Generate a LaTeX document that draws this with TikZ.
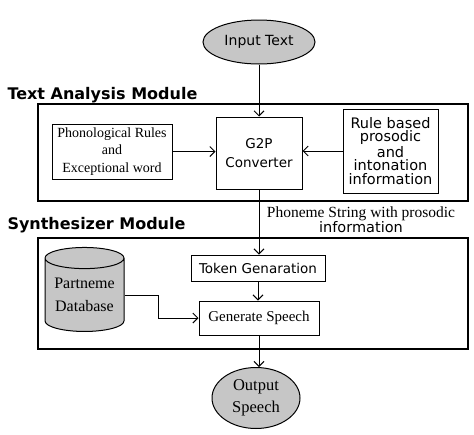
\documentclass[tikz,border=0pt]{standalone}
\usepackage{fontspec}
\setmainfont{Liberation Serif}
\setsansfont{DejaVu Sans}
\usetikzlibrary{arrows.meta, shapes.geometric}

\newcommand{\sanssize}[2]{\sffamily\fontsize{#1}{#2}\selectfont}
\newcommand{\serifsize}[2]{\rmfamily\fontsize{#1}{#2}\selectfont}

\begin{document}
\begin{tikzpicture}[x=1pt, y=-1pt, >={Straight Barb[length=5pt, width=10pt]}, line width=1pt,
            box/.style={draw, rectangle, inner sep=0pt, align=center},
            module/.style={draw, rectangle, inner sep=0pt, line width=1.3pt},
            term/.style={draw, ellipse, fill=gray!45, inner sep=0pt, align=center},
            heading/.style={anchor=west, inner sep=0pt, font=\sffamily\bfseries\fontsize{16}{18}\selectfont}]
            \useasboundingbox (0,0) rectangle (474,434);

            % module frames
            \node[module, minimum width=430, minimum height=97] (tabox) at (253,152.5) {};
            \node[module, minimum width=430, minimum height=111] (smbox) at (253,293.5) {};
            \node[heading] (tam) at (7,95) {Text Analysis Module};
            \node[heading] (sm) at (7,225) {Synthesizer Module};

            \node[term, minimum width=112, minimum height=44, font=\sanssize{14}{16}] (in) at (259,42) {Input Text};

            % text analysis
            \node[box, minimum width=120, minimum height=55, font=\serifsize{14}{17.5}] (phon) at (112,151.5) {Phonological Rules\\and\\Exceptional word};
            \node[box, minimum width=86, minimum height=72, font=\sanssize{13.5}{19}] (g2p) at (259,153) {G2P\\Converter};
            \node[box, minimum width=95, minimum height=84, font=\sanssize{14.5}{13.8}] (rule) at (390.5,151) {Rule based\\prosodic\\and\\intonation\\information};

            \node[align=center, inner sep=0pt, font=\fontsize{15}{15}\selectfont] (phlabel) at (361,220)
                {{\serifsize{15.5}{15}Phoneme String with prosodic}\\{\sanssize{14.5}{15}information}};

            % synthesizer
            \node[box, minimum width=134, minimum height=26, font=\sanssize{13.5}{15}] (tok) at (258,268) {Token Genaration};
            \node[box, minimum width=120, minimum height=34, font=\serifsize{15}{17}] (gen) at (259,318) {Generate Speech};
            \node[draw, cylinder, shape border rotate=90, aspect=0.35, fill=gray!45,
                  minimum width=79, minimum height=84, inner sep=0pt, align=center,
                  font=\serifsize{16}{23}] (db) at (84.5,295) {Partneme\\Database};

            \node[term, minimum width=88, minimum height=61, font=\serifsize{16.5}{22}] (out) at (256,398) {Output\\Speech};

            \draw[->] (in) -- (g2p);
            \draw[->] (phon.east) -- (g2p.west |- phon.east);
            \draw[->] (rule.west) -- (g2p.east |- rule.west);
            \draw[->] (g2p.south) -- (g2p.south |- tok.north);
            \draw[->] (tok) -- (tok |- gen.north);
            \draw[->] (db.east) -- ++(34,0) |- (gen.west);
            \draw[->] (gen.south) -- (gen.south |- out.north);
        \end{tikzpicture}
\end{document}
